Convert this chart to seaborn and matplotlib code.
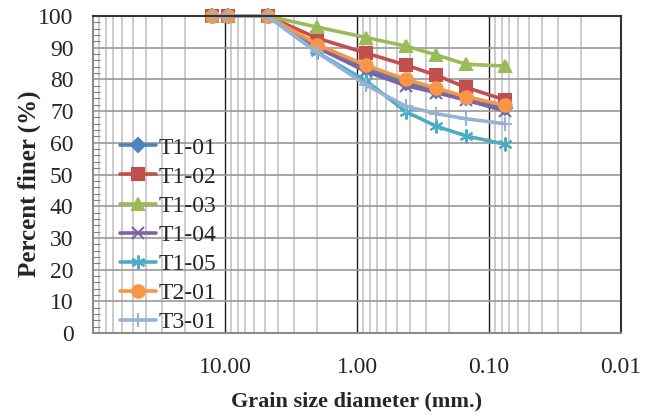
import numpy as np
import pandas as pd
import matplotlib
matplotlib.use("Agg")
import matplotlib.pyplot as plt
from matplotlib.ticker import FixedLocator, LogLocator, NullFormatter, FormatStrFormatter, MultipleLocator
import seaborn as sns

# sieve sizes (mm) and percent finer for each sample
sizes = [12.5, 9.5, 4.75, 2.0, 0.85, 0.425, 0.25, 0.15, 0.075]
t1_01 = [100, 100, 100, 90.5, 83.5, 79.0, 76.5, 74.0, 71.0]
t1_02 = [100, 100, 100, 93.0, 88.3, 84.5, 81.3, 77.5, 73.5]
t1_03 = [100, 100, 100, 96.5, 93.2, 90.5, 87.7, 84.8, 84.2]
t1_04 = [100, 100, 100, 90.0, 82.5, 78.0, 75.8, 73.5, 70.0]
t1_05 = [100, 100, 100, 88.5, 79.5, 69.8, 65.2, 62.2, 59.5]
t2_01 = [100, 100, 100, 91.0, 84.4, 80.0, 77.2, 74.6, 71.8]
t3_01 = [100, 100, 100, 88.5, 78.2, 71.5, 69.2, 67.6, 66.0]

names = ["T1-01", "T1-02", "T1-03", "T1-04", "T1-05", "T2-01", "T3-01"]
series = [t1_01, t1_02, t1_03, t1_04, t1_05, t2_01, t3_01]
colors = ["#4F81BD", "#C0504D", "#9BBB59", "#8064A2", "#4BACC6", "#F79646", "#95B3D7"]
markers = ["D", "s", "^", "x", (6, 2, 0), "o", "+"]
msizes = [7, 9, 9, 9, 10, 9, 10]

sns.set_style("white")
plt.rcParams['font.family'] = ['Liberation Serif', 'DejaVu Serif']

fig = plt.figure(figsize=(6.53, 4.18), dpi=100)
ax = fig.add_axes([0.1424, 0.2033, 0.951 - 0.1424, 0.9617 - 0.2033])

for name, vals, c, m, ms in zip(names, series, colors, markers, msizes):
    df = pd.DataFrame({"size": sizes, "finer": vals})
    sns.lineplot(data=df, x="size", y="finer", ax=ax, color=c, marker=m,
                 markersize=ms, linewidth=2.6, markeredgecolor=c,
                 markeredgewidth=1.5, label=name, sort=False, clip_on=False)

ax.set_xscale("log")
ax.set_xlim(100, 0.01)
ax.set_ylim(0, 100)

ax.xaxis.set_major_locator(FixedLocator([10, 1, 0.1, 0.01]))
ax.xaxis.set_major_formatter(FormatStrFormatter("%.2f"))
ax.xaxis.set_minor_locator(LogLocator(base=10, subs=np.arange(2, 10)))
ax.xaxis.set_minor_formatter(NullFormatter())
ax.yaxis.set_major_locator(MultipleLocator(10))
ax.yaxis.set_minor_locator(MultipleLocator(2))

ax.grid(which="major", axis="y", color="#9a9a9a", linewidth=1.2)
ax.grid(which="minor", axis="x", color="#c4c4c4", linewidth=1.2)
ax.grid(which="major", axis="x", color="#1a1a1a", linewidth=1.0)
ax.set_axisbelow(True)

ax.tick_params(axis="x", which="major", direction="out", length=6, width=1,
               color="#999999", labelsize=17, pad=11)
ax.tick_params(axis="x", which="minor", length=0)
ax.tick_params(axis="y", which="major", direction="out", length=5, width=1,
               color="#808080", labelsize=17, pad=9)
ax.tick_params(axis="y", which="minor", direction="in", length=5, width=0.8,
               color="#808080", left=True)

for side in ["left", "bottom"]:
    ax.spines[side].set_color("#8c8c8c")
    ax.spines[side].set_linewidth(1.5)
for side in ["top", "right"]:
    ax.spines[side].set_color("#333333")
    ax.spines[side].set_linewidth(1.5)

ax.set_xlabel("Grain size diameter (mm.)", fontsize=16, fontweight="bold", labelpad=10)
ax.set_ylabel("Percent finer (%)", fontsize=18, fontweight="bold")
ax.yaxis.set_label_coords(-0.098, 0.47)

ax.legend(loc="lower left", bbox_to_anchor=(0.025, -0.045), frameon=False,
          fontsize=17, handlelength=1.5, handletextpad=0.1, labelspacing=0.32,
          borderaxespad=0.2)

plt.savefig("out.png", dpi=100)
